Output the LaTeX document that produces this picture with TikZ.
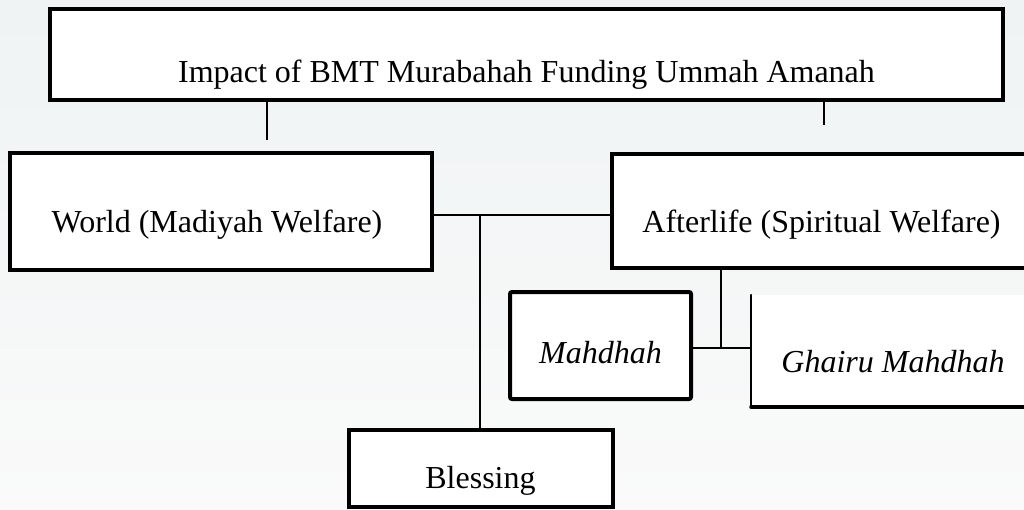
\documentclass[tikz,border=0pt]{standalone}
\usepackage{fontspec}
\setmainfont{Liberation Serif}
\definecolor{bgtop}{HTML}{EFF3F4}
\definecolor{bgbot}{HTML}{FAFAFA}
\begin{document}
\begin{tikzpicture}[x=1pt,y=-1pt,
  box/.style={draw=black, fill=white, line width=4pt, inner sep=0pt, rectangle},
  lbl/.style={anchor=base, inner sep=0pt, font=\fontsize{32}{38}\selectfont},
  conn/.style={draw=black, line width=1.5pt}]
\useasboundingbox (0,0) rectangle (1024,509);
\clip (0,0) rectangle (1024,509);
\shade[top color=bgtop, bottom color=bgbot] (0,0) rectangle (1024,509);
% boxes
\node[box, minimum width=953pt, minimum height=91pt] (top) at (526.5,54.5) {};
\node[box, minimum width=422pt, minimum height=117pt] (world) at (221,211.5) {};
\node[box, minimum width=428pt, minimum height=114pt] (after) at (826,211) {};
\node[box, rounded corners=2pt, minimum width=181pt, minimum height=107pt] (mah) at (600.5,345.5) {};
\node[draw=none, fill=white, inner sep=0pt, outer sep=0pt, minimum width=289pt, minimum height=112pt] (gh) at (895.5,351) {};
\draw[line width=2.5pt, line cap=round] (gh.north west) -- (gh.south west);
\draw[line width=3.5pt, line cap=round] (gh.south west) -- (gh.south east);
\node[box, minimum width=264pt, minimum height=77pt] (bless) at (481,468.5) {};
% labels
\node[lbl] (ttop) at (526.5,82) {Impact of BMT Murabahah Funding Ummah Amanah};
\node[lbl] (tworld) at (217,232) {World (Madiyah Welfare)};
\node[lbl] (tafter) at (821.5,232) {Afterlife (Spiritual Welfare)};
\node[lbl] (tmah) at (600.5,363) {\itshape Mahdhah};
\node[lbl] (tgh) at (893,372) {\itshape Ghairu Mahdhah};
\node[lbl] (tbless) at (480.5,488) {Blessing};
% connectors
\coordinate (tw) at (267,140);
\coordinate (ta) at (824,125);
\coordinate (jb) at (480,0);
\coordinate (jm) at (721,0);
\draw[conn] (top.south -| tw) -- (tw);
\draw[conn] (top.south -| ta) -- (ta);
\draw[conn] (world.east |- 0,215) -- (after.west |- 0,215);
\draw[conn] (jb |- 0,215) -- (bless.north -| jb);
\draw[conn] (after.south -| jm) -- (jm |- 0,348);
\draw[conn] (mah.east |- 0,348) -- (gh.west |- 0,348);
\end{tikzpicture}
\end{document}
